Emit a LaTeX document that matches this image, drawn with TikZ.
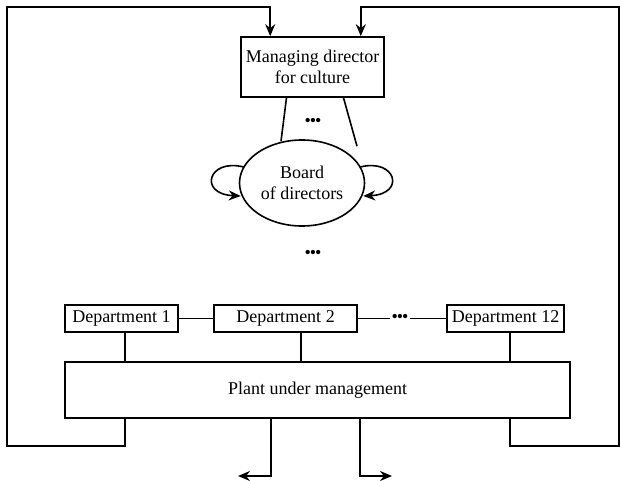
\documentclass[tikz,border=0pt]{standalone}
\usepackage{fontspec}
\setmainfont{Liberation Serif}
\usetikzlibrary{shapes.geometric,arrows.meta,calc}
\begin{document}
\begin{tikzpicture}[x=1pt,y=-1pt,
  line width=1.6pt,
  every node/.style={font=\fontsize{18}{21}\selectfont, inner sep=0pt, align=center},
  box/.style={draw, rectangle, minimum height=27},
  arr/.style={-{Stealth[length=12pt,width=10pt]}},
  dotsn/.style={font=\fontsize{18}{21}\selectfont}]
\useasboundingbox (0,0) rectangle (620,481);
\node[box, minimum width=143, minimum height=60] (md) at (312.5,67) {Managing director\\for culture};
\node[draw, ellipse, minimum width=125, minimum height=86] (board) at (302,183) {Board\\of directors};
\node[dotsn] (dots1) at (313,122) {\textbullet\kern-1pt\textbullet\kern-1pt\textbullet};
\node[dotsn] (dots2) at (313,254) {\textbullet\kern-1pt\textbullet\kern-1pt\textbullet};
\node[box, minimum width=113] (d1) at (121.5,318.5) {Department 1};
\node[box, minimum width=143] (d2) at (285.5,318.5) {Department 2};
\node[box, minimum width=117] (d12) at (505.5,318.5) {Department 12};
\node[dotsn, inner xsep=1pt] (dots3) at (400,318.5) {\textbullet\kern-1pt\textbullet\kern-1pt\textbullet};
\node[box, minimum width=505, minimum height=56] (plant) at (317.5,390) {Plant under management};
% managing director to board
\draw ($(md.south)+(-26,0)$) -- ($(board.north)+(-21,2)$);
\draw ($(md.south)+(31,0)$) -- ($(board.north)+(55,7)$);
% self loops
\draw[arr] ($(board.west)+(5,-16)$) .. controls (208,158) and (198,194) .. ($(board.west)+(2,13)$);
\draw[arr] ($(board.east)+(-5,-16)$) .. controls (396,158) and (406,194) .. ($(board.east)+(-2,13)$);
% departments
\draw (d1.east) -- (d2.west);
\draw (d2.east) -- (dots3.west);
\draw (dots3.east) -- (d12.west);
\draw (d1.south -| 125,0) -- (plant.north -| 125,0);
\draw (d2.south -| 301,0) -- (plant.north -| 301,0);
\draw (d12.south -| 510,0) -- (plant.north -| 510,0);
% feedback loops
\coordinate (lb) at (7,446);
\coordinate (lt) at (7,7);
\coordinate (rb) at (619,446);
\coordinate (rt) at (619,7);
\draw[arr] (plant.south -| 125,0) |- (lb) -- (lt) -| ($(md.north west)+(30,0)$);
\draw[arr] (plant.south -| 510,0) |- (rb) -- (rt) -| ($(md.north east)+(-24,0)$);
% outputs
\coordinate (o1) at (238,476);
\coordinate (o2) at (392,476);
\draw[arr] (plant.south -| 271,0) |- (o1);
\draw[arr] (plant.south -| 360,0) |- (o2);
\end{tikzpicture}
\end{document}
